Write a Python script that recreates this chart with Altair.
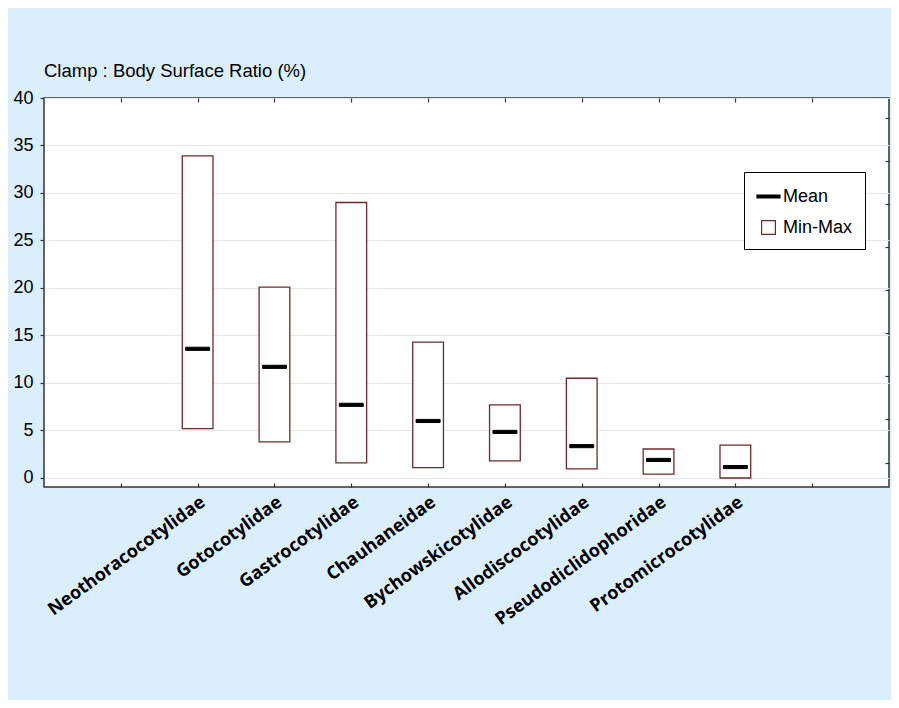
import json
import altair as alt
import pandas as pd

# ---- data ----
categories = [
    "Neothoracocotylidae", "Gotocotylidae", "Gastrocotylidae", "Chauhaneidae",
    "Bychowskicotylidae", "Allodiscocotylidae", "Pseudodiclidophoridae",
    "Protomicrocotylidae",
]
min_values = [5.2, 3.8, 1.6, 1.1, 1.8, 0.95, 0.4, 0.0]
max_values = [33.9, 20.1, 29.0, 14.3, 7.7, 10.5, 3.05, 3.45]
mean_values = [13.6, 11.7, 7.7, 6.0, 4.85, 3.35, 1.9, 1.15]

y_ticks = [0, 5, 10, 15, 20, 25, 30, 35, 40]
x_ticks = [1, 2, 3, 4, 5, 6, 7, 8, 9, 10]
right_ticks = [1.58, 6.21, 10.74, 15.26, 19.79, 24.32, 28.84, 33.37, 37.89]
legend_items = ["Mean", "Min-Max"]

# ---- table ----
df = pd.DataFrame({
    "family": categories,
    "pos": [i + 2 for i in range(len(categories))],
    "min": min_values,
    "max": max_values,
    "mean": mean_values,
})

names = [""] * 12
for i, c in enumerate(categories):
    names[i + 2] = c
label_expr = json.dumps(names) + "[datum.value]"

BROWN = "#6e2b2b"
xs = alt.Scale(domain=[0, 11], nice=False, zero=False)
ys = alt.Scale(domain=[-0.95, 40], nice=False, zero=False)

stroke_scale = alt.Scale(domain=legend_items, range=["black", BROWN])
fill_scale = alt.Scale(domain=legend_items, range=["black", "white"])
shape_scale = alt.Scale(domain=legend_items,
                        range=["M-1,-0.13H1V0.13H-1Z", "M-0.6,-0.6H0.6V0.6H-0.6Z"])

legend = alt.Legend(
    title=None, orient="none", legendX=700, legendY=74,
    padding=12, strokeColor="black", fillColor="white",
    labelFont="Liberation Sans", labelFontSize=18, labelColor="black",
    labelOffset=2, rowPadding=9, symbolSize=529, symbolStrokeWidth=1.2,
)

bottom_axis = alt.Axis(
    orient="bottom", values=x_ticks, labelExpr=label_expr, labelAngle=324,
    labelAlign="right", labelBaseline="top", labelFont="Open Sans",
    labelFontWeight="bold", labelFontSize=18, labelColor="black",
    labelPadding=6, tickSize=4, tickColor="#333", tickWidth=1.2, offset=-4,
    domain=False, grid=False, title=None, labelOverlap=False, labelFlush=False,
    labelLimit=400,
)
top_axis = alt.Axis(
    orient="top", values=x_ticks, labels=False, tickSize=4, tickColor="#333",
    tickWidth=1.2, offset=-4, domain=False, grid=False, title=None,
)
left_axis = alt.Axis(
    orient="left", values=y_ticks, labelFont="Liberation Sans", labelFontSize=18,
    labelColor="black", labelPadding=7, tickSize=4, tickColor="#333", tickWidth=1.2,
    domain=False, grid=True, gridColor="#e6e6e6", gridWidth=1, title=None,
    labelFlush=False, labelOverlap=False,
)
right_axis = alt.Axis(
    orient="right", values=right_ticks, labels=False, tickSize=4, tickColor="#333",
    tickWidth=1.2, offset=-4, domain=False, grid=False, title=None,
)

base = alt.Chart(df)

boxes = base.transform_calculate(
    x0="datum.pos - 0.2", x1="datum.pos + 0.2", kind="'Min-Max'"
).mark_rect(strokeWidth=1.3).encode(
    x=alt.X("x0:Q", scale=xs, axis=bottom_axis),
    x2="x1:Q",
    y=alt.Y("min:Q", scale=ys, axis=left_axis),
    y2="max:Q",
    stroke=alt.Stroke("kind:N", scale=stroke_scale, legend=legend),
    fill=alt.Fill("kind:N", scale=fill_scale, legend=legend),
)

means = base.transform_calculate(kind="'Mean'").mark_point(
    filled=True, opacity=1, size=576, strokeWidth=1
).encode(
    x=alt.X("pos:Q", scale=xs, axis=top_axis),
    y=alt.Y("mean:Q", scale=ys, axis=right_axis),
    shape=alt.Shape("kind:N", scale=shape_scale, legend=legend),
    stroke=alt.Stroke("kind:N", scale=stroke_scale, legend=legend),
    fill=alt.Fill("kind:N", scale=fill_scale, legend=legend),
)

chart = alt.layer(boxes, means).resolve_axis(
    x="independent", y="independent"
).properties(
    width=845, height=389,
    padding={"left": 36, "top": 90, "right": 2, "bottom": 213},
    autosize=alt.AutoSizeParams(type="none"),
    title=alt.TitleParams(
        "Clamp : Body Surface Ratio (%)", anchor="start", frame="group",
        font="Liberation Sans", fontSize=18.5, fontWeight="normal", color="black",
        offset=9,
    ),
).configure(background="#dbeefc").configure_view(
    stroke="#333", strokeWidth=1.5, fill="white"
)

chart.save("out.html", embed_options={"renderer": "svg", "actions": False})
